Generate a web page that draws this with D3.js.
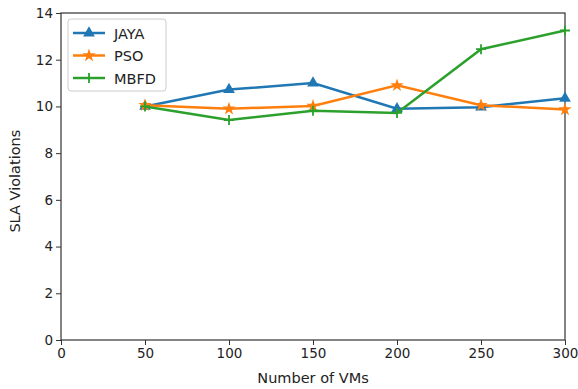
<!DOCTYPE html>
<html>
<head>
<meta charset="utf-8">
<script src="https://cdn.jsdelivr.net/npm/d3@7"></script>
<style>
  html, body { margin: 0; padding: 0; background: #fff; }
  svg text { font-family: "DejaVu Sans", sans-serif; fill: #222; }
</style>
</head>
<body>
<div id="chart"></div>
<script>
var vms = [50, 100, 150, 200, 250, 300];
var jaya = [10.0, 10.72, 11.0, 9.9, 9.97, 10.35];
var pso = [10.05, 9.9, 10.02, 10.9, 10.05, 9.87];
var mbfd = [10.0, 9.42, 9.82, 9.72, 12.45, 13.25];
var xTicks = [0, 50, 100, 150, 200, 250, 300];
var yTicks = [0, 2, 4, 6, 8, 10, 12, 14];

var series = [
  { name: 'JAYA', values: jaya, color: '#1f77b4', marker: d3.symbolTriangle },
  { name: 'PSO', values: pso, color: '#ff7f0e', marker: d3.symbolStar },
  { name: 'MBFD', values: mbfd, color: '#2ca02c', marker: 'plus' }
];

var width = 578, height = 389;
var margin = { top: 13, right: 13, bottom: 49, left: 61 };

var svg = d3.select('#chart').append('svg')
  .attr('width', width).attr('height', height);

var x = d3.scaleLinear().domain([0, 300]).range([margin.left, width - margin.right]);
var y = d3.scaleLinear().domain([0, 14]).range([height - margin.bottom, margin.top]);

var xAxis = svg.append('g')
  .attr('transform', 'translate(0,' + (height - margin.bottom) + ')')
  .call(d3.axisBottom(x).tickValues(xTicks).tickSize(5).tickPadding(3).tickSizeOuter(0));
var yAxis = svg.append('g')
  .attr('transform', 'translate(' + margin.left + ',0)')
  .call(d3.axisLeft(y).tickValues(yTicks).tickSize(5).tickPadding(3).tickSizeOuter(0));

[xAxis, yAxis].forEach(function(g) {
  g.select('.domain').remove();
  g.selectAll('text').style('font-size', '13.5px').attr('fill', '#222');
  g.selectAll('line').attr('stroke', '#333');
});

// frame
svg.append('rect')
  .attr('x', margin.left).attr('y', margin.top)
  .attr('width', width - margin.left - margin.right)
  .attr('height', height - margin.top - margin.bottom)
  .attr('fill', 'none').attr('stroke', '#333').attr('stroke-width', 1.2);

var line = d3.line()
  .x(function(d, i) { return x(vms[i]); })
  .y(function(d) { return y(d); });

function drawMarker(g, s, cx, cy) {
  if (s.marker === 'plus') {
    g.append('path')
      .attr('d', 'M' + (cx - 5) + ',' + cy + 'H' + (cx + 5) + 'M' + cx + ',' + (cy - 5) + 'V' + (cy + 5))
      .attr('stroke', s.color).attr('stroke-width', 1.8).attr('fill', 'none');
  } else {
    g.append('path')
      .attr('d', d3.symbol().type(s.marker).size(s.marker === d3.symbolStar ? 55 : 60)())
      .attr('transform', 'translate(' + cx + ',' + cy + ')')
      .attr('fill', s.color);
  }
}

series.forEach(function(s) {
  var g = svg.append('g');
  g.append('path')
    .datum(s.values)
    .attr('d', line)
    .attr('fill', 'none')
    .attr('stroke', s.color)
    .attr('stroke-width', 2.5);
  s.values.forEach(function(v, i) {
    drawMarker(g, s, x(vms[i]), y(v));
  });
});

// legend
var lg = svg.append('g');
lg.append('rect')
  .attr('x', 68).attr('y', 19).attr('width', 98).attr('height', 72)
  .attr('rx', 3).attr('fill', '#fff').attr('fill-opacity', 0.85)
  .attr('stroke', '#ccc');
series.forEach(function(s, i) {
  var ly = 33 + i * 22.5;
  lg.append('line')
    .attr('x1', 73).attr('x2', 105).attr('y1', ly).attr('y2', ly)
    .attr('stroke', s.color).attr('stroke-width', 2.5);
  drawMarker(lg, s, 89, ly);
  lg.append('text')
    .attr('x', 114).attr('y', ly + 5.5)
    .style('font-size', '14.5px')
    .text(s.name);
});

svg.append('text')
  .attr('x', x(150)).attr('y', height - 6)
  .attr('text-anchor', 'middle')
  .style('font-size', '14.5px')
  .text('Number of VMs');

svg.append('text')
  .attr('transform', 'translate(20,' + y(6.8) + ') rotate(-90)')
  .attr('text-anchor', 'middle')
  .style('font-size', '14.5px')
  .text('SLA Violations');
</script>
</body>
</html>
